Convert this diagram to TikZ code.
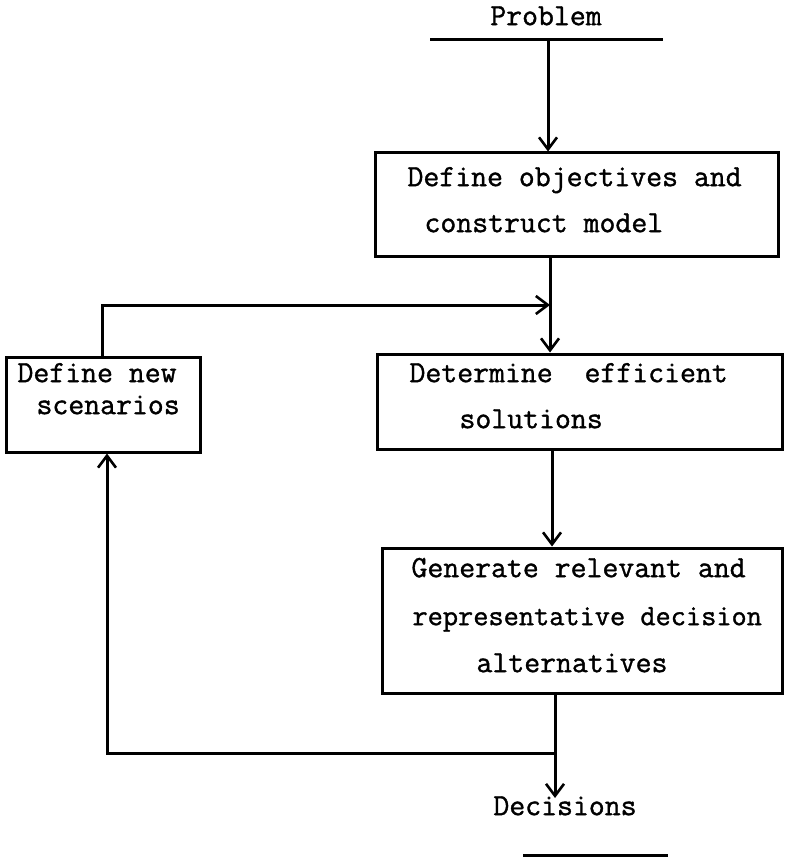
\documentclass[tikz,border=0pt]{standalone}
\usepackage{fontspec}
\newfontfamily\twfont{Latin Modern Mono}[FakeBold=1.2]
\usetikzlibrary{arrows.meta}
\begin{document}
\begin{tikzpicture}[x=1pt,y=-1pt,
  line width=3pt,
  box/.style={draw,line width=3pt,inner sep=0pt},
  txt/.style={anchor=mid west,inner sep=0pt,font=\twfont\fontsize{30.9}{31}\selectfont},
  arr/.style={-{Straight Barb[length=12pt,width=18pt,line width=2.6pt]}}
]
\useasboundingbox (0,0) rectangle (784,858);
% boxes
\node[box,minimum width=194pt,minimum height=95pt] (newsc) at (103,404.5) {};
\node[box,minimum width=403pt,minimum height=104pt] (obj) at (576.5,205) {};
\node[box,minimum width=405pt,minimum height=95pt] (eff) at (579.5,401.5) {};
\node[box,minimum width=400pt,minimum height=145pt] (gen) at (582,620.5) {};
% texts
\node[txt] (t1) at (406,184) {Define objectives and};
\node[txt] (t2) at (423,230) {construct model};
\node[txt] (t3) at (408,380) {Determine\ \ efficient};
\node[txt] (t4) at (458,426) {solutions};
\node[txt] (t5) at (410,575) {Generate relevant and};
\node[txt,font=\twfont\fontsize{29.5}{30}\selectfont] (t6) at (411,623) {representative decision};
\node[txt] (t7) at (475,670) {alternatives};
\node[txt] (t8) at (16,380) {Define new};
\node[txt] (t9) at (35,412) {scenarios};
\node[txt,anchor=mid] (prob) at (546,23) {Problem};
\node[txt,anchor=mid] (dec) at (565,813) {Decisions};
% coordinates
\coordinate (pl) at (430,40);
\coordinate (pr) at (663,40);
\coordinate (ptop) at (548,40);
\coordinate (jx) at (550,305);
\coordinate (jd) at (555,753);
\coordinate (dtop) at (555,798);
\coordinate (dl) at (523,855);
\coordinate (dr) at (668,855);
% connectors
\draw (pl) -- (pr);
\draw (dl) -- (dr);
\draw[arr] (ptop) -- (ptop |- obj.north);
\draw (obj.south -| jx) -- (jx);
\draw[arr] (jx) -- (eff.north -| jx);
\draw[arr] (newsc.north -| 102,0) |- (jx);
\draw[arr] (eff.south -| 552,0) -- (gen.north -| 552,0);
\draw[arr] (gen.south -| jd) -- (dtop);
\draw[arr] (jd) -| (newsc.south -| 107,0);
\end{tikzpicture}
\end{document}
